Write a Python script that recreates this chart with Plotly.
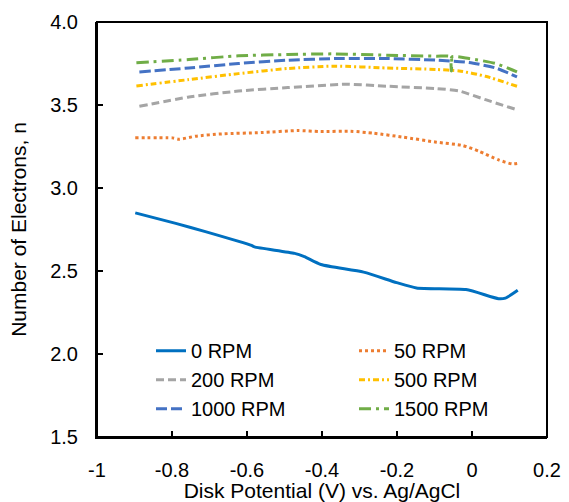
import plotly.graph_objects as go

x_0 = [-0.898, -0.79, -0.711, -0.588, -0.58, -0.473, -0.447, -0.403, -0.289, -0.201, -0.148, -0.016, 0.071, 0.089, 0.122]
y_0 = [2.850, 2.787, 2.737, 2.654, 2.645, 2.606, 2.586, 2.539, 2.493, 2.430, 2.398, 2.388, 2.333, 2.337, 2.384]

x_50 = [-0.898, -0.799, -0.781, -0.737, -0.667, -0.561, -0.465, -0.403, -0.324, -0.262, -0.183, -0.095, -0.025, 0.019, 0.071, 0.107, 0.122]
y_50 = [3.302, 3.302, 3.294, 3.312, 3.326, 3.334, 3.346, 3.340, 3.342, 3.330, 3.306, 3.276, 3.256, 3.221, 3.169, 3.145, 3.148]

x_200 = [-0.887, -0.755, -0.623, -0.491, -0.333, -0.227, -0.095, -0.034, 0.036, 0.120]
y_200 = [3.492, 3.548, 3.584, 3.605, 3.625, 3.613, 3.599, 3.584, 3.532, 3.471]

x_500 = [-0.895, -0.755, -0.623, -0.491, -0.368, -0.227, -0.095, -0.034, 0.036, 0.120]
y_500 = [3.615, 3.653, 3.689, 3.720, 3.734, 3.723, 3.714, 3.705, 3.673, 3.613]

x_1000 = [-0.887, -0.755, -0.623, -0.491, -0.359, -0.227, -0.095, -0.008, 0.063, 0.120]
y_1000 = [3.699, 3.723, 3.750, 3.770, 3.780, 3.780, 3.770, 3.756, 3.723, 3.669]

x_1500 = [-0.895, -0.755, -0.623, -0.491, -0.368, -0.227, -0.095, -0.056, -0.055, -0.054, -0.008, 0.063, 0.120]
y_1500 = [3.754, 3.774, 3.796, 3.804, 3.808, 3.800, 3.794, 3.790, 3.705, 3.789, 3.780, 3.750, 3.699]

x_tickvals = [-1, -0.8, -0.6, -0.4, -0.2, 0, 0.2]
x_ticktext = ["-1", "-0.8", "-0.6", "-0.4", "-0.2", "0", "0.2"]

series = [
    ("0 RPM", x_0, y_0, "#0070C0", "solid"),
    ("50 RPM", x_50, y_50, "#ED7D31", "3px,3px"),
    ("200 RPM", x_200, y_200, "#A5A5A5", "8px,4px"),
    ("500 RPM", x_500, y_500, "#FFC000", "6px,3px,2px,3px"),
    ("1000 RPM", x_1000, y_1000, "#4472C4", "11px,4px"),
    ("1500 RPM", x_1500, y_1500, "#70AD47", "12px,5px,3px,5px"),
]

FAM = "Liberation Sans, Arial, sans-serif"

fig = go.Figure()
for name, xs, ys, color, dash in series:
    fig.add_trace(go.Scatter(x=xs, y=ys, name=name, mode="lines",
                             line=dict(color=color, width=3, dash=dash, shape="spline", smoothing=0.6)))

fig.update_layout(
    width=569, height=502,
    margin=dict(l=97, r=17, t=22, b=65),
    paper_bgcolor="white", plot_bgcolor="white",
    font=dict(family=FAM, size=20, color="#000"),
    showlegend=True,
    legend=dict(orientation="h", x=0.12, y=0.255, xanchor="left", yanchor="top",
                entrywidth=158, entrywidthmode="pixels", bgcolor="rgba(0,0,0,0)",
                font=dict(family=FAM, size=20, color="#000"),
                tracegroupgap=0),
    shapes=[dict(type="rect", xref="paper", yref="paper", x0=0, x1=1, y0=0, y1=1,
                 line=dict(color="#000", width=2), fillcolor="rgba(0,0,0,0)", layer="above")],
    xaxis=dict(range=[-1, 0.2], tickvals=x_tickvals, ticktext=x_ticktext, automargin=False,
               showgrid=False, zeroline=False, showline=True, linecolor="#000", linewidth=2,
               ticks="inside", ticklen=6, tickwidth=2, tickcolor="#000",
               ticklabelstandoff=14, tickfont=dict(family=FAM, size=20),
               title=dict(text="Disk Potential (V) vs. Ag/AgCl", standoff=4,
                          font=dict(family=FAM, size=21))),
    yaxis=dict(range=[1.5, 4.0], dtick=0.5, tick0=1.5, tickformat=".1f", automargin=False,
               showgrid=False, zeroline=False, showline=True, linecolor="#000", linewidth=2,
               ticks="inside", ticklen=6, tickwidth=2, tickcolor="#000",
               ticklabelstandoff=13, tickfont=dict(family=FAM, size=20),
               title=dict(text="Number of Electrons, n", standoff=18,
                          font=dict(family=FAM, size=21))),
)
fig.write_html("out.html", config={"displayModeBar": False},
               post_script="document.body.style.margin='0';document.body.style.padding='0';")
